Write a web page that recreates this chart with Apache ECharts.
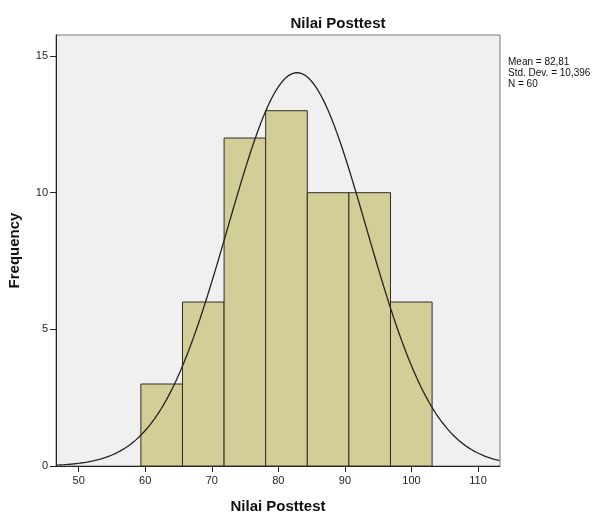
<!DOCTYPE html>
<html>
<head>
<meta charset="utf-8">
<script src="https://cdn.jsdelivr.net/npm/echarts@6/dist/echarts.min.js"></script>
<style>
  html, body { margin: 0; padding: 0; background: #fff; }
  #chart { width: 606px; height: 514px; }
</style>
</head>
<body>
<div id="chart"></div>
<script>
// histogram Nilai Posttest
var binStarts = [59.35, 65.6, 71.85, 78.1, 84.35, 90.6, 96.85];
var binWidth = 6.25;
var counts = [3, 6, 12, 13, 10, 10, 6];
var xTicks = [50, 60, 70, 80, 90, 100, 110];
var yTicks = [0, 5, 10, 15];
var mean = 82.81, sd = 10.396, n = 60;
var xMin = 46.6, xMax = 113.3, yMax = 15.77;

// bars data [start, end, count]
var bars = [];
for (var i = 0; i < counts.length; i++) {
  bars.push([binStarts[i], binStarts[i] + binWidth, counts[i]]);
}

// normal curve scaled to histogram (from mean / sd / N)
var curve = [];
for (var x = xMin; x <= xMax + 0.001; x += 0.2) {
  var z = (x - mean) / sd;
  var y = n * binWidth / (sd * Math.sqrt(2 * Math.PI)) * Math.exp(-0.5 * z * z);
  curve.push([x, y]);
}

var font = "Liberation Sans";
var chart = echarts.init(document.getElementById("chart"));
var option = {
  animation: false,
  textStyle: { fontFamily: font },
  title: {
    text: "Nilai Posttest",
    left: 333, top: 11, textAlign: "center",
    textStyle: { fontFamily: font, fontSize: 15, fontWeight: "bold", color: "#111" }
  },
  graphic: [{
    type: "text", left: 508, top: 57,
    style: {
      text: "Mean = 82,81\nStd. Dev. = 10,396\nN = 60",
      font: "10px Liberation Sans", fill: "#111", lineHeight: 11
    }
  }],
  grid: {
    left: 56, right: 106, top: 35, bottom: 48,
    outerBoundsMode: "none", containLabel: false,
    show: true, backgroundColor: "#f0f0f0", borderColor: "#7a7a7a", borderWidth: 1
  },
  xAxis: {
    type: "value", min: xMin, max: xMax,
    name: "Nilai Posttest", nameLocation: "middle", nameGap: 33,
    nameTextStyle: { fontFamily: font, fontSize: 15, fontWeight: "bold", color: "#111" },
    splitLine: { show: false },
    axisLine: { lineStyle: { color: "#222", width: 1 } },
    axisTick: { inside: false, length: 6, customValues: xTicks, lineStyle: { color: "#222" } },
    axisLabel: { customValues: xTicks, fontSize: 11, color: "#222", margin: 9 }
  },
  yAxis: {
    type: "value", min: 0, max: yMax,
    name: "Frequency", nameLocation: "middle", nameGap: 34,
    nameTextStyle: { fontFamily: font, fontSize: 15, fontWeight: "bold", color: "#111" },
    splitLine: { show: false },
    axisLine: { show: true, lineStyle: { color: "#222", width: 1 } },
    axisTick: { show: true, inside: false, length: 6, customValues: yTicks, lineStyle: { color: "#222" } },
    axisLabel: { customValues: yTicks, fontSize: 11, color: "#222", margin: 8 }
  },
  series: [{
    type: "custom",
    data: bars,
    renderItem: function (params, api) {
      var p0 = api.coord([api.value(0), api.value(2)]);
      var p1 = api.coord([api.value(1), 0]);
      return {
        type: "rect",
        shape: { x: p0[0], y: p0[1], width: p1[0] - p0[0], height: p1[1] - p0[1] },
        style: { fill: "#d3ce97", stroke: "#2e2e26", lineWidth: 1 }
      };
    }
  }, {
    type: "line",
    data: curve,
    showSymbol: false,
    smooth: false,
    lineStyle: { color: "#222", width: 1.3 },
    z: 3
  }]
};
chart.setOption(option);
</script>
</body>
</html>
